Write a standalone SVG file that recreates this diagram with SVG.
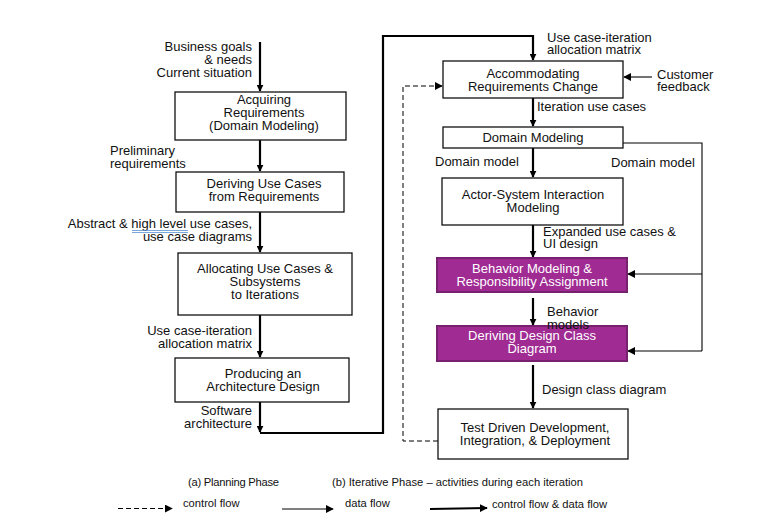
<svg xmlns="http://www.w3.org/2000/svg" width="775" height="531" viewBox="0 0 775 531">
<style>
text{font-family:"Liberation Sans",Arial,sans-serif;font-size:13px;fill:#111}
.c{text-anchor:middle}
.r{text-anchor:end}
.w{fill:#fff}
.s{font-size:11.2px}
.box{fill:#fff;stroke:#111;stroke-width:1.3}
.pbox{fill:#A02B93;stroke:#76206E;stroke-width:2}
.thick{fill:none;stroke:#000;stroke-width:2.2}
.thin{fill:none;stroke:#000;stroke-width:1.1}
.dash{fill:none;stroke:#000;stroke-width:1;stroke-dasharray:5 3}
</style>
<defs>
<marker id="ah" viewBox="0 0 10 10" refX="9" refY="5" markerWidth="7" markerHeight="7" markerUnits="userSpaceOnUse" orient="auto">
<path d="M0,0 L10,5 L0,10 z" fill="#000"/>
</marker>
<marker id="ahs" viewBox="0 0 10 10" refX="9" refY="5" markerWidth="8" markerHeight="8" markerUnits="userSpaceOnUse" orient="auto">
<path d="M0,0 L10,5 L0,10 z" fill="#000"/>
</marker>
</defs>

<g id="connectors">
<path class="thick" d="M260,42 V91" marker-end="url(#ah)"/>
<path class="thick" d="M260,140 V171" marker-end="url(#ah)"/>
<path class="thick" d="M260,212 V252" marker-end="url(#ah)"/>
<path class="thick" d="M260,315 V357" marker-end="url(#ah)"/>
<path class="thick" d="M260,402 V432" marker-end="url(#ah)"/>
<path class="thick" d="M260,433 H383 V36 H533 V60" marker-end="url(#ah)"/>
<path class="thick" d="M533,98 V126" marker-end="url(#ah)"/>
<path class="thick" d="M533,148 V177" marker-end="url(#ah)"/>
<path class="thick" d="M533,225 V257" marker-end="url(#ah)"/>
<path class="thick" d="M533,298 V325" marker-end="url(#ah)"/>
<path class="thick" d="M533,365 V408" marker-end="url(#ah)"/>
<path class="thin" d="M652,77 H624" marker-end="url(#ahs)"/>
<path class="thin" d="M623,143 H702 V351"/>
<path class="thin" d="M702,274 H628" marker-end="url(#ahs)"/>
<path class="thin" d="M702,351 H628" marker-end="url(#ahs)"/>
<path class="dash" d="M438,441 H403 V86 H442" marker-end="url(#ahs)"/>
</g>

<g id="n1"><rect class="box" x="175" y="92" width="171" height="48"/>
<text class="c" x="264" y="104">Acquiring</text><text class="c" x="264" y="117">Requirements</text><text class="c" x="264" y="130">(Domain Modeling)</text></g>
<g id="n2"><rect class="box" x="176" y="172" width="168" height="40"/>
<text class="c" x="264" y="188">Deriving Use Cases</text><text class="c" x="264" y="201">from Requirements</text></g>
<g id="n3"><rect class="box" x="178" y="253" width="174" height="62"/>
<text class="c" x="265" y="273">Allocating Use Cases &amp;</text><text class="c" x="265" y="286">Subsystems</text><text class="c" x="265" y="299">to Iterations</text></g>
<g id="n4"><rect class="box" x="175" y="358" width="174" height="44"/>
<text class="c" x="263" y="378">Producing an</text><text class="c" x="263" y="391">Architecture Design</text></g>

<g id="nA"><rect class="box" x="443" y="61" width="180" height="37"/>
<text class="c" x="533" y="78">Accommodating</text><text class="c" x="533" y="91">Requirements Change</text></g>
<g id="nB"><rect class="box" x="443" y="127" width="180" height="21"/>
<text class="c" x="533" y="142">Domain Modeling</text></g>
<g id="nC"><rect class="box" x="442" y="178" width="181" height="47"/>
<text class="c" x="533" y="199">Actor-System Interaction</text><text class="c" x="533" y="212">Modeling</text></g>
<g id="nD"><rect class="pbox" x="437" y="258" width="190" height="34"/>
<text class="c w" x="532" y="273">Behavior Modeling &amp;</text><text class="c w" x="532" y="286">Responsibility Assignment</text></g>
<g id="nE"><rect class="pbox" x="437" y="326" width="190" height="35"/>
<text class="c w" x="532" y="340">Deriving Design Class</text><text class="c w" x="532" y="353">Diagram</text></g>
<g id="nF"><rect class="box" x="438" y="409" width="190" height="50"/>
<text class="c" x="535" y="432">Test Driven Development,</text><text class="c" x="535" y="445">Integration, &amp; Deployment</text></g>

<g id="labels">
<text class="r" x="252" y="51">Business goals</text><text class="r" x="252" y="64">&amp; needs</text><text class="r" x="252" y="77">Current situation</text>
<text x="110" y="155">Preliminary</text><text x="110" y="168">requirements</text>
<text class="r" x="252" y="228">Abstract &amp; high level use cases,</text><text class="r" x="252" y="241">use case diagrams</text>
<path d="M132,230.5 H188 M132,232.5 H188" stroke="#5B8FD6" stroke-width="0.8" fill="none"/>
<text class="r" x="252" y="335">Use case-iteration</text><text class="r" x="252" y="348">allocation matrix</text>
<text class="r" x="252" y="415">Software</text><text class="r" x="252" y="428">architecture</text>
<text x="547" y="42">Use case-iteration</text><text x="547" y="54">allocation matrix</text>
<text x="657" y="79">Customer</text><text x="657" y="91">feedback</text>
<text x="537" y="111">Iteration use cases</text>
<text x="435" y="166">Domain model</text>
<text x="611" y="167">Domain model</text>
<text x="543" y="236">Expanded use cases &amp;</text><text x="543" y="248">UI design</text>
<text x="547" y="316">Behavior</text><text x="547" y="329">models</text>
<text x="542" y="394">Design class diagram</text>
<text class="s" x="188" y="486" textLength="91">(a) Planning Phase</text>
<text class="s" x="332" y="486" textLength="251">(b) Iterative Phase – activities during each iteration</text>
</g>

<g id="legend">
<path class="dash" d="M118,508.5 H172" marker-end="url(#ahs)"/>
<text class="s" x="183" y="507">control flow</text>
<path class="thin" d="M282,509 H333" marker-end="url(#ahs)"/>
<text class="s" x="345" y="507">data flow</text>
<path class="thick" d="M430,509 L487,508" marker-end="url(#ahs)" style="stroke-width:1.8"/>
<text class="s" x="492" y="508">control flow &amp; data flow</text>
</g>
</svg>
